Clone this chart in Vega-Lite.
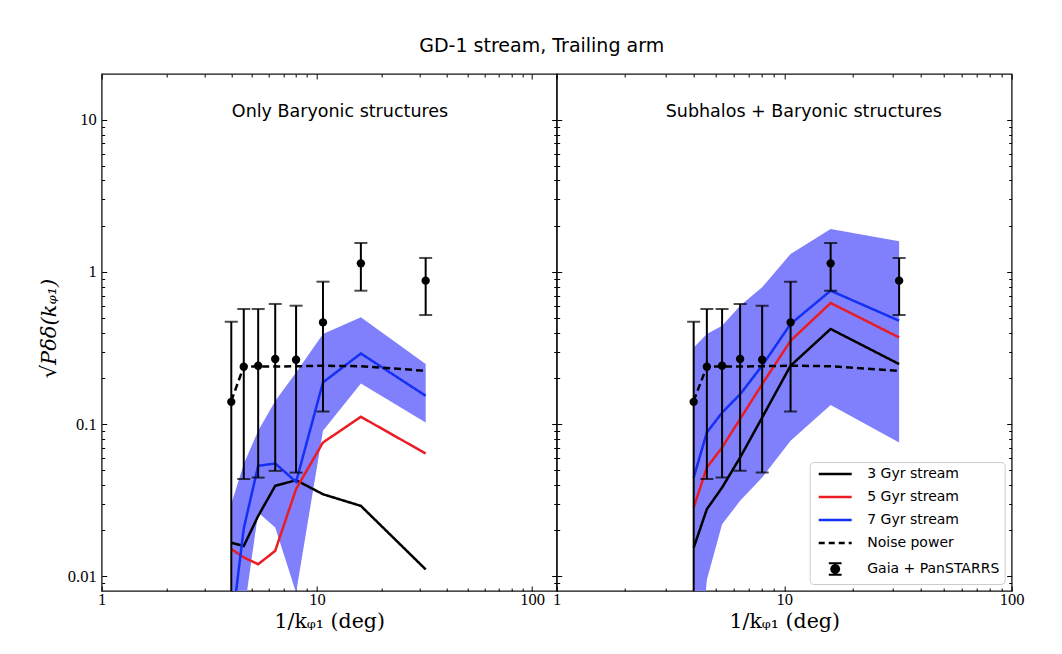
{
  "$schema": "https://vega.github.io/schema/vega-lite/v6.json",
  "background": "white",
  "autosize": {"type": "none"},
  "padding": {"left": 101.7, "top": 74, "right": 960.3, "bottom": 580},
  "title": {"text": "GD-1 stream, Trailing arm", "font": "DejaVu Sans", "fontSize": 19, "fontWeight": "normal", "color": "#000", "anchor": "start", "align": "center", "frame": "group", "dx": 440, "offset": 2, "baseline": "alphabetic"},
  "config": {
    "view": {"stroke": "#111", "strokeWidth": 1.3},
    "axis": {"domain": false, "grid": false, "tickColor": "#000", "tickWidth": 1, "labelFont": "Liberation Serif", "labelFontSize": 16.5, "labelColor": "#000", "labelFlush": false, "labelOverlap": false, "titleFont": "DejaVu Serif", "titleFontSize": 20.5, "titleFontWeight": "normal", "titleColor": "#000"}
  },
  "datasets": {
    "bandL": [
      {"x": 4, "lo": 0.001, "hi": 0.0298},
      {"x": 4.5714, "lo": 0.0056, "hi": 0.0546},
      {"x": 5.3333, "lo": 0.0262, "hi": 0.0903},
      {"x": 6.4, "lo": 0.0209, "hi": 0.142},
      {"x": 8, "lo": 0.0078, "hi": 0.218},
      {"x": 10.6667, "lo": 0.0903, "hi": 0.391},
      {"x": 16, "lo": 0.185, "hi": 0.503},
      {"x": 32, "lo": 0.1025, "hi": 0.248}
    ],
    "bandR": [
      {"x": 4, "lo": 0.001, "hi": 0.319},
      {"x": 4.5714, "lo": 0.0095, "hi": 0.391},
      {"x": 5.3333, "lo": 0.022, "hi": 0.443},
      {"x": 6.4, "lo": 0.0313, "hi": 0.6},
      {"x": 8, "lo": 0.0445, "hi": 0.792},
      {"x": 10.6667, "lo": 0.0776, "hi": 1.313},
      {"x": 16, "lo": 0.1333, "hi": 1.918},
      {"x": 32, "lo": 0.0757, "hi": 1.589}
    ],
    "linesL": [
      {"series": "3 Gyr stream", "x": 4, "y": 0.0166},
      {"series": "3 Gyr stream", "x": 4.5714, "y": 0.0158},
      {"series": "3 Gyr stream", "x": 5.3333, "y": 0.0249},
      {"series": "3 Gyr stream", "x": 6.4, "y": 0.0393},
      {"series": "3 Gyr stream", "x": 8, "y": 0.0428},
      {"series": "3 Gyr stream", "x": 10.6667, "y": 0.0346},
      {"series": "3 Gyr stream", "x": 16, "y": 0.029},
      {"series": "3 Gyr stream", "x": 32, "y": 0.0111},
      {"series": "5 Gyr stream", "x": 4, "y": 0.0151},
      {"series": "5 Gyr stream", "x": 4.5714, "y": 0.0133},
      {"series": "5 Gyr stream", "x": 5.3333, "y": 0.012},
      {"series": "5 Gyr stream", "x": 6.4, "y": 0.0147},
      {"series": "5 Gyr stream", "x": 8, "y": 0.0374},
      {"series": "5 Gyr stream", "x": 10.6667, "y": 0.0757},
      {"series": "5 Gyr stream", "x": 16, "y": 0.1117},
      {"series": "5 Gyr stream", "x": 32, "y": 0.0641},
      {"series": "7 Gyr stream", "x": 4, "y": 0.0044},
      {"series": "7 Gyr stream", "x": 4.5714, "y": 0.0206},
      {"series": "7 Gyr stream", "x": 5.3333, "y": 0.0532},
      {"series": "7 Gyr stream", "x": 6.4, "y": 0.0551},
      {"series": "7 Gyr stream", "x": 8, "y": 0.0417},
      {"series": "7 Gyr stream", "x": 10.6667, "y": 0.188},
      {"series": "7 Gyr stream", "x": 16, "y": 0.291},
      {"series": "7 Gyr stream", "x": 32, "y": 0.1535},
      {"series": "Noise power", "x": 4, "y": 0.142},
      {"series": "Noise power", "x": 4.5714, "y": 0.239},
      {"series": "Noise power", "x": 5.3333, "y": 0.239},
      {"series": "Noise power", "x": 6.4, "y": 0.239},
      {"series": "Noise power", "x": 8, "y": 0.24},
      {"series": "Noise power", "x": 10.6667, "y": 0.242},
      {"series": "Noise power", "x": 16, "y": 0.24},
      {"series": "Noise power", "x": 32, "y": 0.224}
    ],
    "linesR": [
      {"series": "3 Gyr stream", "x": 4, "y": 0.0154},
      {"series": "3 Gyr stream", "x": 4.5714, "y": 0.0276},
      {"series": "3 Gyr stream", "x": 5.3333, "y": 0.0383},
      {"series": "3 Gyr stream", "x": 6.4, "y": 0.0603},
      {"series": "3 Gyr stream", "x": 8, "y": 0.1105},
      {"series": "3 Gyr stream", "x": 10.6667, "y": 0.242},
      {"series": "3 Gyr stream", "x": 16, "y": 0.422},
      {"series": "3 Gyr stream", "x": 32, "y": 0.248},
      {"series": "5 Gyr stream", "x": 4, "y": 0.0283},
      {"series": "5 Gyr stream", "x": 4.5714, "y": 0.0518},
      {"series": "5 Gyr stream", "x": 5.3333, "y": 0.0702},
      {"series": "5 Gyr stream", "x": 6.4, "y": 0.108},
      {"series": "5 Gyr stream", "x": 8, "y": 0.183},
      {"series": "5 Gyr stream", "x": 10.6667, "y": 0.353},
      {"series": "5 Gyr stream", "x": 16, "y": 0.625},
      {"series": "5 Gyr stream", "x": 32, "y": 0.371},
      {"series": "7 Gyr stream", "x": 4, "y": 0.0445},
      {"series": "7 Gyr stream", "x": 4.5714, "y": 0.0881},
      {"series": "7 Gyr stream", "x": 5.3333, "y": 0.119},
      {"series": "7 Gyr stream", "x": 6.4, "y": 0.157},
      {"series": "7 Gyr stream", "x": 8, "y": 0.242},
      {"series": "7 Gyr stream", "x": 10.6667, "y": 0.455},
      {"series": "7 Gyr stream", "x": 16, "y": 0.753},
      {"series": "7 Gyr stream", "x": 32, "y": 0.478},
      {"series": "Noise power", "x": 4, "y": 0.142},
      {"series": "Noise power", "x": 4.5714, "y": 0.239},
      {"series": "Noise power", "x": 5.3333, "y": 0.239},
      {"series": "Noise power", "x": 6.4, "y": 0.239},
      {"series": "Noise power", "x": 8, "y": 0.24},
      {"series": "Noise power", "x": 10.6667, "y": 0.242},
      {"series": "Noise power", "x": 16, "y": 0.24},
      {"series": "Noise power", "x": 32, "y": 0.224}
    ],
    "obs": [
      {"x": 4, "y": 0.14, "lo": 0.0001, "hi": 0.471},
      {"x": 4.5714, "y": 0.238, "lo": 0.0435, "hi": 0.571},
      {"x": 5.3333, "y": 0.242, "lo": 0.0445, "hi": 0.571},
      {"x": 6.4, "y": 0.268, "lo": 0.0493, "hi": 0.616},
      {"x": 8, "y": 0.265, "lo": 0.048, "hi": 0.6},
      {"x": 10.6667, "y": 0.466, "lo": 0.121, "hi": 0.863},
      {"x": 16, "y": 1.139, "lo": 0.753, "hi": 1.552},
      {"x": 32, "y": 0.877, "lo": 0.521, "hi": 1.236}
    ],
    "labelL": [{"label": "Only Baryonic structures", "x": 12.8, "y": 10.5}],
    "labelR": [{"label": "Subhalos + Baryonic structures", "x": 12.2, "y": 10.5}]
  },
  "spacing": 0,
  "bounds": "flush",
  "resolve": {"scale": {"color": "independent", "strokeDash": "independent"}, "legend": {"color": "independent", "strokeDash": "independent"}},
  "hconcat": [
    {
      "width": 455,
      "height": 517,
      "resolve": {"axis": {"x": "independent", "y": "independent"}},
      "layer": [
        {
          "data": {"name": "bandL"},
          "mark": {"type": "area", "color": "#8080fc", "opacity": 1, "clip": true},
          "encoding": {
            "x": {"field": "x", "type": "quantitative", "scale": {"type": "log", "domain": [1, 130], "nice": false},
                  "axis": {"orient": "bottom", "values": [1, 10, 100], "format": "~g", "tickSize": -5, "labelPadding": 5.5, "title": "1/kᵩ₁ (deg)", "titleY": 30, "titleBaseline": "middle"}},
            "y": {"field": "hi", "type": "quantitative", "scale": {"type": "log", "domain": [0.008, 20], "nice": false},
                  "axis": {"orient": "left", "values": [0.01, 0.1, 1, 10], "format": "~g", "tickSize": -5, "labelPadding": 10.5, "title": "√Pδδ(kᵩ₁)", "titleFontStyle": "italic", "titleFontSize": 21, "titleX": -52, "titleY": 254, "titleAngle": 270, "titleBaseline": "middle"}},
            "y2": {"field": "lo"}
          }
        },
        {
          "data": {"name": "linesL"},
          "mark": {"type": "line", "strokeWidth": 2.5, "clip": true},
          "encoding": {
            "x": {"field": "x", "type": "quantitative", "axis": {"orient": "top", "values": [1, 10, 100], "tickSize": -5, "labels": false, "title": null}},
            "y": {"field": "y", "type": "quantitative", "axis": {"orient": "right", "values": [0.01, 0.1, 1, 10], "tickSize": -5, "labels": false, "title": null}},
            "color": {"field": "series", "type": "nominal", "legend": null,
                      "scale": {"domain": ["3 Gyr stream", "5 Gyr stream", "7 Gyr stream", "Noise power", "Gaia + PanSTARRS"], "range": ["#000000", "#ec1c24", "#1530f5", "#000000", "#000000"]}},
            "strokeDash": {"field": "series", "type": "nominal", "legend": null,
                      "scale": {"domain": ["3 Gyr stream", "5 Gyr stream", "7 Gyr stream", "Noise power"], "range": [[1, 0], [1, 0], [1, 0], [7, 4]]}}
          }
        },
        {
          "data": {"name": "obs"},
          "mark": {"type": "rule", "color": "#000", "strokeWidth": 2, "clip": true},
          "encoding": {
            "x": {"field": "x", "type": "quantitative", "axis": {"orient": "bottom", "values": [2, 3, 4, 5, 6, 7, 8, 9, 20, 30, 40, 50, 60, 70, 80, 90], "tickSize": -3, "labels": false, "title": null}},
            "y": {"field": "hi", "type": "quantitative", "axis": {"orient": "left", "values": [0.009, 0.02, 0.03, 0.04, 0.05, 0.06, 0.07, 0.08, 0.09, 0.2, 0.3, 0.4, 0.5, 0.6, 0.7, 0.8, 0.9, 2, 3, 4, 5, 6, 7, 8, 9], "tickSize": -3, "labels": false, "title": null}},
            "y2": {"field": "lo"}
          }
        },
        {
          "data": {"name": "obs"},
          "mark": {"type": "tick", "orient": "horizontal", "color": "#000", "size": 13, "thickness": 2, "clip": true},
          "encoding": {
            "x": {"field": "x", "type": "quantitative", "axis": {"orient": "top", "values": [2, 3, 4, 5, 6, 7, 8, 9, 20, 30, 40, 50, 60, 70, 80, 90], "tickSize": -3, "labels": false, "title": null}},
            "y": {"field": "hi", "type": "quantitative", "axis": {"orient": "right", "values": [0.009, 0.02, 0.03, 0.04, 0.05, 0.06, 0.07, 0.08, 0.09, 0.2, 0.3, 0.4, 0.5, 0.6, 0.7, 0.8, 0.9, 2, 3, 4, 5, 6, 7, 8, 9], "tickSize": -3, "labels": false, "title": null}}
          }
        },
        {
          "data": {"name": "obs"},
          "mark": {"type": "tick", "orient": "horizontal", "color": "#000", "size": 13, "thickness": 2, "clip": true},
          "encoding": {
            "x": {"field": "x", "type": "quantitative", "axis": null},
            "y": {"field": "lo", "type": "quantitative", "axis": null}
          }
        },
        {
          "data": {"name": "obs"},
          "mark": {"type": "point", "filled": true, "color": "#000", "opacity": 1, "size": 70, "clip": true},
          "encoding": {
            "x": {"field": "x", "type": "quantitative", "axis": null},
            "y": {"field": "y", "type": "quantitative", "axis": null}
          }
        },
        {
          "data": {"name": "labelL"},
          "mark": {"type": "text", "font": "DejaVu Sans", "fontSize": 17.5, "color": "#000", "align": "center", "baseline": "alphabetic"},
          "encoding": {
            "x": {"field": "x", "type": "quantitative", "axis": null},
            "y": {"field": "y", "type": "quantitative", "axis": null},
            "text": {"field": "label"}
          }
        }
      ]
    },
    {
      "width": 455,
      "height": 517,
      "resolve": {"axis": {"x": "independent", "y": "independent"}},
      "layer": [
        {
          "data": {"name": "bandR"},
          "mark": {"type": "area", "color": "#8080fc", "opacity": 1, "clip": true},
          "encoding": {
            "x": {"field": "x", "type": "quantitative", "scale": {"type": "log", "domain": [1, 100], "nice": false},
                  "axis": {"orient": "bottom", "values": [1, 10, 100], "format": "~g", "tickSize": -5, "labelPadding": 5.5, "title": "1/kᵩ₁ (deg)", "titleY": 30, "titleBaseline": "middle"}},
            "y": {"field": "hi", "type": "quantitative", "scale": {"type": "log", "domain": [0.008, 20], "nice": false},
                  "axis": {"orient": "left", "values": [0.01, 0.1, 1, 10], "tickSize": -5, "labels": false, "title": null}},
            "y2": {"field": "lo"}
          }
        },
        {
          "data": {"name": "linesR"},
          "mark": {"type": "line", "strokeWidth": 2.5, "clip": true},
          "encoding": {
            "x": {"field": "x", "type": "quantitative", "axis": {"orient": "top", "values": [1, 10, 100], "tickSize": -5, "labels": false, "title": null}},
            "y": {"field": "y", "type": "quantitative", "axis": {"orient": "right", "values": [0.01, 0.1, 1, 10], "tickSize": -5, "labels": false, "title": null}},
            "color": {"field": "series", "type": "nominal",
                      "scale": {"domain": ["3 Gyr stream", "5 Gyr stream", "7 Gyr stream", "Noise power", "Gaia + PanSTARRS"], "range": ["#000000", "#ec1c24", "#1530f5", "#000000", "#000000"]},
                      "legend": {"title": null, "orient": "bottom-right", "offset": 7.5, "labelFont": "DejaVu Sans", "labelFontSize": 14, "labelColor": "#000", "symbolType": "stroke", "symbolSize": 256, "symbolStrokeWidth": 2.5, "symbolOffset": 13.5, "labelOffset": 25, "padding": 5, "rowPadding": 9, "strokeColor": "#cccccc", "fillColor": "rgba(255,255,255,0.8)", "cornerRadius": 4,
                        "encode": {"symbols": {"update": {
                          "shape": {"signal": "datum.value === 'Gaia + PanSTARRS' ? 'M-0.8,-0.72H0.8M0,-0.72V0.72M-0.8,0.72H0.8M0.5,0L0.43,0.25L0.25,0.43L0,0.5L-0.25,0.43L-0.43,0.25L-0.5,0L-0.43,-0.25L-0.25,-0.43L0,-0.5L0.25,-0.43L0.43,-0.25Z' : 'M-2.06,0H2.06'"},
                          "strokeDash": {"signal": "datum.value === 'Noise power' ? [6, 4] : [1, 0]"},
                          "strokeWidth": {"signal": "datum.value === 'Gaia + PanSTARRS' ? 2 : 2.5"},
                          "fill": {"signal": "datum.value === 'Gaia + PanSTARRS' ? '#000000' : 'transparent'"}
                        }}}}},
            "strokeDash": {"field": "series", "type": "nominal", "legend": null,
                      "scale": {"domain": ["3 Gyr stream", "5 Gyr stream", "7 Gyr stream", "Noise power"], "range": [[1, 0], [1, 0], [1, 0], [7, 4]]}}
          }
        },
        {
          "data": {"name": "obs"},
          "mark": {"type": "rule", "color": "#000", "strokeWidth": 2, "clip": true},
          "encoding": {
            "x": {"field": "x", "type": "quantitative", "axis": {"orient": "bottom", "values": [2, 3, 4, 5, 6, 7, 8, 9, 20, 30, 40, 50, 60, 70, 80, 90], "tickSize": -3, "labels": false, "title": null}},
            "y": {"field": "hi", "type": "quantitative", "axis": {"orient": "left", "values": [0.009, 0.02, 0.03, 0.04, 0.05, 0.06, 0.07, 0.08, 0.09, 0.2, 0.3, 0.4, 0.5, 0.6, 0.7, 0.8, 0.9, 2, 3, 4, 5, 6, 7, 8, 9], "tickSize": -3, "labels": false, "title": null}},
            "y2": {"field": "lo"}
          }
        },
        {
          "data": {"name": "obs"},
          "mark": {"type": "tick", "orient": "horizontal", "color": "#000", "size": 13, "thickness": 2, "clip": true},
          "encoding": {
            "x": {"field": "x", "type": "quantitative", "axis": {"orient": "top", "values": [2, 3, 4, 5, 6, 7, 8, 9, 20, 30, 40, 50, 60, 70, 80, 90], "tickSize": -3, "labels": false, "title": null}},
            "y": {"field": "hi", "type": "quantitative", "axis": {"orient": "right", "values": [0.009, 0.02, 0.03, 0.04, 0.05, 0.06, 0.07, 0.08, 0.09, 0.2, 0.3, 0.4, 0.5, 0.6, 0.7, 0.8, 0.9, 2, 3, 4, 5, 6, 7, 8, 9], "tickSize": -3, "labels": false, "title": null}}
          }
        },
        {
          "data": {"name": "obs"},
          "mark": {"type": "tick", "orient": "horizontal", "color": "#000", "size": 13, "thickness": 2, "clip": true},
          "encoding": {
            "x": {"field": "x", "type": "quantitative", "axis": null},
            "y": {"field": "lo", "type": "quantitative", "axis": null}
          }
        },
        {
          "data": {"name": "obs"},
          "mark": {"type": "point", "filled": true, "color": "#000", "opacity": 1, "size": 70, "clip": true},
          "encoding": {
            "x": {"field": "x", "type": "quantitative", "axis": null},
            "y": {"field": "y", "type": "quantitative", "axis": null}
          }
        },
        {
          "data": {"name": "labelR"},
          "mark": {"type": "text", "font": "DejaVu Sans", "fontSize": 17.5, "color": "#000", "align": "center", "baseline": "alphabetic"},
          "encoding": {
            "x": {"field": "x", "type": "quantitative", "axis": null},
            "y": {"field": "y", "type": "quantitative", "axis": null},
            "text": {"field": "label"}
          }
        }
      ]
    }
  ]
}
